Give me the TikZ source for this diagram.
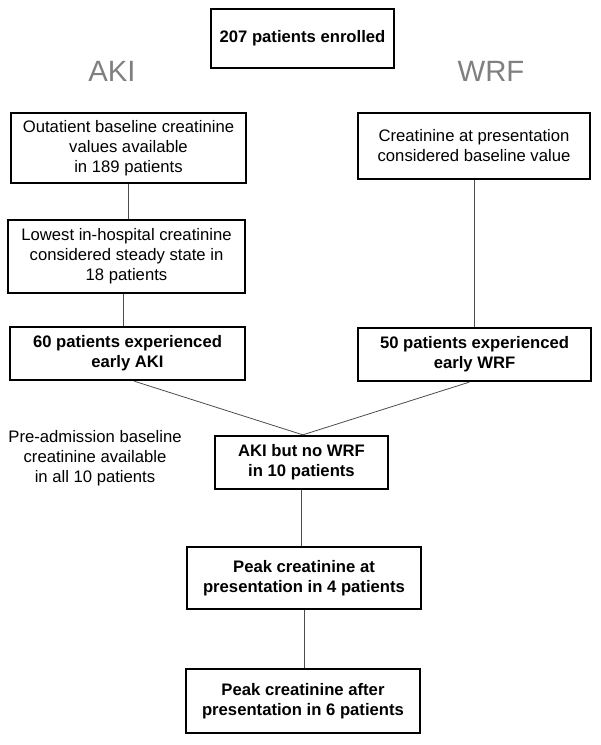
\documentclass[tikz,border=0pt]{standalone}
\usepackage{fontspec}
\setmainfont{Liberation Sans}
\begin{document}
\begin{tikzpicture}[x=0.75pt,y=-0.75pt,
		box/.style={draw, line width=1.5pt, align=center, inner sep=0pt, font=\fontsize{12.5}{15}\selectfont},
		boldbox/.style={box, font=\fontsize{12.5}{15}\selectfont\bfseries},
		armlabel/.style={text=black!50, font=\fontsize{22}{26}\selectfont},
		link/.style={draw=black!70, line width=0.6pt}]
		  \useasboundingbox (0,0) rectangle (600,745);
		  \node[boldbox, minimum width=137pt, minimum height=44pt] (enrol) at (302.5,38.5) {207 patients enrolled};
		  \node[armlabel] (akilab) at (112,71) {AKI};
		  \node[armlabel] (wrflab) at (491,71) {WRF};
		  % AKI arm
		  \node[box, minimum width=176pt, minimum height=52.5pt] (outpt) at (128.5,148) {Outatient baseline creatinine\\values available\\in 189 patients};
		  \node[box, minimum width=178pt, minimum height=54pt] (lowest) at (126.5,256.5) {Lowest in-hospital creatinine\\considered steady state in\\18 patients};
		  \node[boldbox, minimum width=176pt, minimum height=40pt] (akisixty) at (127.5,353.5) {60 patients experienced\\early AKI};
		  % WRF arm
		  \node[box, minimum width=174pt, minimum height=49.5pt] (atpres) at (474,146) {Creatinine at presentation\\considered baseline value};
		  \node[boldbox, minimum width=175pt, minimum height=40pt] (wrffifty) at (474.5,354.5) {50 patients experienced\\early WRF};
		  % merged
		  \node[align=center, inner sep=0pt, font=\fontsize{12.5}{15}\selectfont] (preadm) at (95,458) {Pre-admission baseline\\creatinine available\\in all 10 patients};
		  \node[boldbox, minimum width=130pt, minimum height=40pt] (akinowrf) at (301.5,462.5) {AKI but no WRF\\in 10 patients};
		  \node[boldbox, minimum width=175.5pt, minimum height=46.5pt] (peakat) at (304,578) {Peak creatinine at\\presentation in 4 patients};
		  \node[boldbox, minimum width=175.5pt, minimum height=48pt] (peakafter) at (303,701) {Peak creatinine after\\presentation in 6 patients};
		  \draw[link] (outpt.south) -- (outpt.south |- lowest.north);
		  \draw[link] ([xshift=-2pt]lowest.south) -- ([xshift=-2pt]lowest.south |- akisixty.north);
		  \draw[link] (atpres.south) -- (atpres.south |- wrffifty.north);
		  \draw[link] ([xshift=5pt]akisixty.south) -- ([xshift=1pt]akinowrf.north);
		  \draw[link] ([xshift=-4pt]wrffifty.south) -- ([xshift=1pt]akinowrf.north);
		  \draw[link] (akinowrf.south) -- (akinowrf.south |- peakat.north);
		  \draw[link] (peakat.south) -- (peakat.south |- peakafter.north);
		\end{tikzpicture}
\end{document}
